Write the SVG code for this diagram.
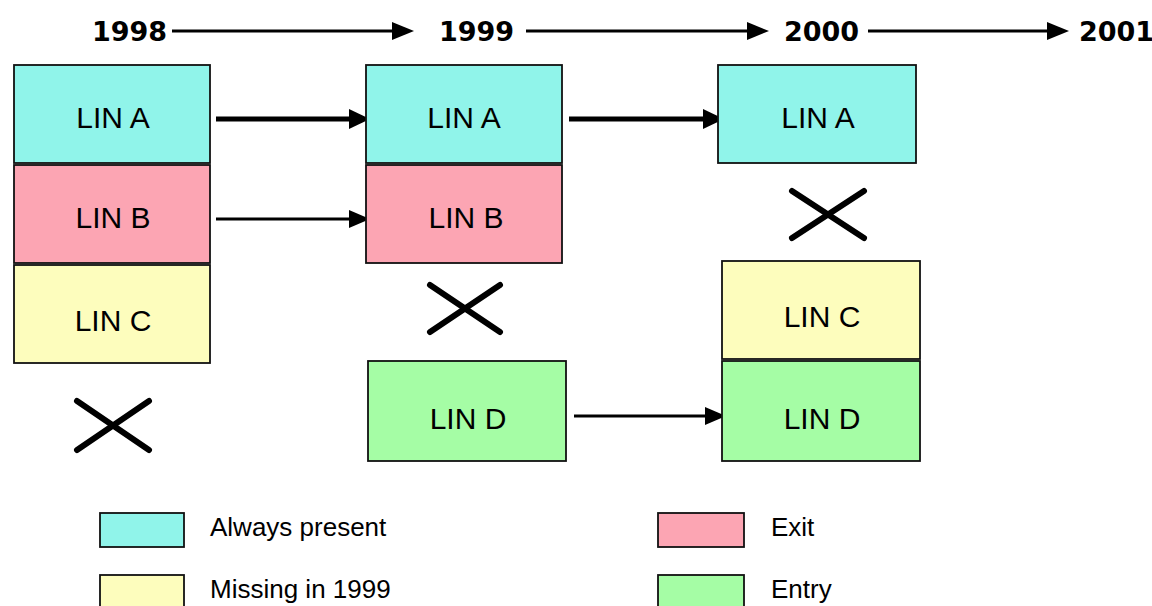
<svg xmlns="http://www.w3.org/2000/svg" width="1152" height="606" viewBox="0 0 1152 606">
<style>
.box{stroke:#111;stroke-width:1.8}
.a{fill:#90F4EA}.b{fill:#FCA5B3}.c{fill:#FDFDBD}.d{fill:#A5FDA5}
.lbl{font-family:"Liberation Sans",Arial,sans-serif;font-size:30px;fill:#000;text-anchor:middle}
.yr{font-family:"DejaVu Sans",Verdana,sans-serif;font-weight:bold;font-size:27px;fill:#000}
.leg{font-family:"Liberation Sans",Arial,sans-serif;font-size:26px;fill:#000}
.x{stroke:#000;stroke-width:6;stroke-linecap:round}
.ln{stroke:#000}
</style>
<g id="years">
<text class="yr" x="92" y="41">1998</text>
<text class="yr" x="439" y="41">1999</text>
<text class="yr" x="784" y="41">2000</text>
<text class="yr" x="1079" y="41">2001</text>
</g>
<g id="connectors">
<line class="ln" x1="172" y1="31" x2="395" y2="31" stroke-width="3"/>
<path d="M392,22 L414,31 L392,40 z"/>
<line class="ln" x1="526" y1="31" x2="750" y2="31" stroke-width="3"/>
<path d="M747,22 L769,31 L747,40 z"/>
<line class="ln" x1="868" y1="31" x2="1050" y2="31" stroke-width="3"/>
<path d="M1047,22 L1069,31 L1047,40 z"/>
<line class="ln" x1="216" y1="119" x2="352" y2="119" stroke-width="5"/>
<path d="M349,109 L370,119 L349,129 z"/>
<line class="ln" x1="216" y1="219" x2="352" y2="219" stroke-width="3"/>
<path d="M349,210 L370,219 L349,228 z"/>
<line class="ln" x1="569" y1="119" x2="706" y2="119" stroke-width="5"/>
<path d="M703,109 L724,119 L703,129 z"/>
<line class="ln" x1="574" y1="416" x2="708" y2="416" stroke-width="3"/>
<path d="M705,407 L726,416 L705,425 z"/>
</g>
<g id="n1998A"><rect class="box a" x="14" y="65" width="196" height="98"/><text class="lbl" x="113" y="128">LIN A</text></g>
<g id="n1998B"><rect class="box b" x="14" y="165" width="196" height="98"/><text class="lbl" x="113" y="228">LIN B</text></g>
<g id="n1998C"><rect class="box c" x="14" y="265" width="196" height="98"/><text class="lbl" x="113" y="331">LIN C</text></g>
<g id="n1999A"><rect class="box a" x="366" y="65" width="196" height="98"/><text class="lbl" x="464" y="128">LIN A</text></g>
<g id="n1999B"><rect class="box b" x="366" y="165" width="196" height="98"/><text class="lbl" x="466" y="228">LIN B</text></g>
<g id="n1999D"><rect class="box d" x="368" y="361" width="198" height="100"/><text class="lbl" x="468" y="429">LIN D</text></g>
<g id="n2000A"><rect class="box a" x="718" y="65" width="198" height="98"/><text class="lbl" x="818" y="128">LIN A</text></g>
<g id="n2000C"><rect class="box c" x="722" y="261" width="198" height="98"/><text class="lbl" x="822" y="327">LIN C</text></g>
<g id="n2000D"><rect class="box d" x="722" y="361" width="198" height="100"/><text class="lbl" x="822" y="429">LIN D</text></g>
<g id="crosses">
<path class="x" d="M77,401 L149,450 M149,401 L77,450"/>
<path class="x" d="M430,285 L500,332 M500,285 L430,332"/>
<path class="x" d="M792,191 L864,238 M864,191 L792,238"/>
</g>
<g id="legend">
<rect class="box a" x="100" y="513" width="84" height="34"/>
<text class="leg" x="210" y="536">Always present</text>
<rect class="box b" x="658" y="513" width="86" height="34"/>
<text class="leg" x="771" y="536">Exit</text>
<rect class="box c" x="100" y="575" width="84" height="40"/>
<text class="leg" x="210" y="598">Missing in 1999</text>
<rect class="box d" x="658" y="575" width="86" height="40"/>
<text class="leg" x="771" y="598">Entry</text>
</g>
</svg>
